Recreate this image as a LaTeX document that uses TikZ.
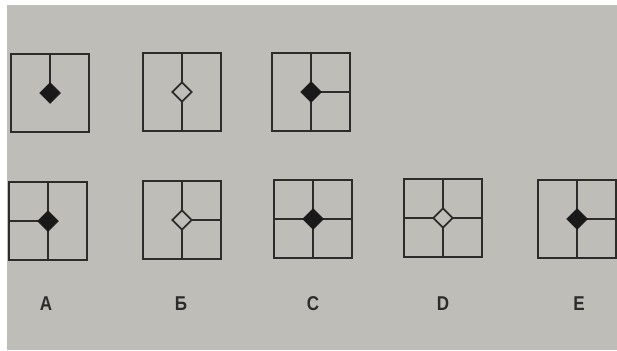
\documentclass[tikz,border=0pt]{standalone}
\usepackage{fontspec}
\setmainfont{Liberation Sans}
\usetikzlibrary{shapes.geometric}
\definecolor{bg}{RGB}{191,189,184}
\definecolor{ink}{RGB}{45,44,43}
\tikzset{
  frame/.style={draw=ink, line width=2pt, rectangle, minimum width=78pt, minimum height=78pt, inner sep=0pt},
  seg/.style={draw=ink, line width=2pt},
  fullgem/.style={diamond, fill=black!90, draw=black!90, line width=0.5pt, inner sep=0pt, minimum width=21pt, minimum height=21pt},
  hollowgem/.style={diamond, fill=bg, draw=ink, line width=1.8pt, inner sep=0pt, minimum width=20pt, minimum height=20pt},
  lettr/.style={text=ink, font=\fontsize{20}{20}\selectfont\bfseries, inner sep=0pt, anchor=center}
}
\begin{document}
\begin{tikzpicture}[x=1pt, y=-1pt]
\useasboundingbox (0,0) rectangle (617,350);
\fill[white] (0,0) rectangle (617,350);
\fill[bg] (7,5) rectangle (617,350);

% top row
\node[frame] (t1) at (50,93) {};
\draw[seg] (t1.north) -- (t1.center);
\node[fullgem] (g1) at (t1.center) {};

\node[frame] (t2) at (182,92) {};
\draw[seg] (t2.north) -- (t2.south);
\node[hollowgem] (g2) at (t2.center) {};

\node[frame] (t3) at (311,92) {};
\draw[seg] (t3.north) -- (t3.south);
\draw[seg] (t3.center) -- (t3.east);
\node[fullgem] (g3) at (t3.center) {};

% bottom row
\node[frame] (bA) at (48,221) {};
\draw[seg] (bA.north) -- (bA.south);
\draw[seg] (bA.west) -- (bA.center);
\node[fullgem] (gA) at (bA.center) {};

\node[frame] (bB) at (182,220) {};
\draw[seg] (bB.north) -- (bB.south);
\draw[seg] (bB.center) -- (bB.east);
\node[hollowgem] (gB) at (bB.center) {};

\node[frame] (bC) at (313,219) {};
\draw[seg] (bC.north) -- (bC.south);
\draw[seg] (bC.west) -- (bC.east);
\node[fullgem] (gC) at (bC.center) {};

\node[frame] (bD) at (443,218) {};
\draw[seg] (bD.north) -- (bD.south);
\draw[seg] (bD.west) -- (bD.east);
\node[hollowgem] (gD) at (bD.center) {};

\node[frame] (bE) at (577,219) {};
\draw[seg] (bE.north) -- (bE.south);
\draw[seg] (bE.center) -- (bE.east);
\node[fullgem] (gE) at (bE.center) {};

% labels
\node[lettr] (lA) at (46,304) {\scalebox{0.85}[1]{A}};
\node[lettr] (lB) at (181,304) {\scalebox{0.85}[1]{Б}};
\node[lettr] (lC) at (313,304) {\scalebox{0.85}[1]{C}};
\node[lettr] (lD) at (443,304) {\scalebox{0.85}[1]{D}};
\node[lettr] (lE) at (579,304) {\scalebox{0.85}[1]{E}};
\end{tikzpicture}
\end{document}
